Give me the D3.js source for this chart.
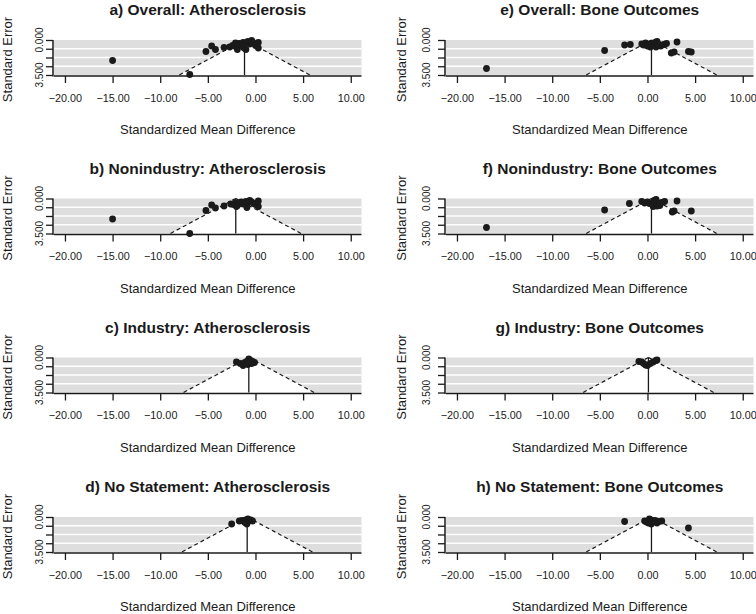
<!DOCTYPE html>
<html><head><meta charset="utf-8">
<script src="https://cdn.jsdelivr.net/npm/d3@7"></script>
<style>body{margin:0;background:#fff}svg{display:block}text{font-family:"Liberation Sans",Arial,Helvetica,sans-serif;fill:#1a1a1a}</style>
</head><body>
<script>
const titles = ["a) Overall: Atherosclerosis","b) Nonindustry: Atherosclerosis","c) Industry: Atherosclerosis","d) No Statement: Atherosclerosis",
                "e) Overall: Bone Outcomes","f) Nonindustry: Bone Outcomes","g) Industry: Bone Outcomes","h) No Statement: Bone Outcomes"];
const estimates = [-1.15, -2.07, -0.7, -0.87, 0.42, 0.42, 0.1, 0.42];
const xTicks = [-20, -15, -10, -5, 0, 5, 10];
const yTicks = [0, 0.875, 1.75, 2.625, 3.5];
const xLabel = "Standardized Mean Difference";
const yLabel = "Standard Error";

const aSMD = [-15.0,-6.9,-5.2,-4.6,-4.2,-3.3,-2.7,-2.4,-2.2,-2.0,-1.9,-1.7,-1.5,-1.3,-1.2,-1.0,-0.8,-0.6,-0.4,-0.2,0.0,0.3,0.3,-1.4,-2.1,-1.0];
const aSE  = [2.05,3.45,1.15,0.6,0.95,0.75,0.7,0.55,0.6,0.45,0.95,0.35,0.5,0.25,0.8,0.3,0.15,0.4,0.05,0.3,0.55,0.25,0.8,0.6,0.3,0.95];
const bSMD = [-15.0,-6.9,-5.2,-4.6,-4.2,-3.3,-2.6,-2.3,-2.1,-1.9,-1.7,-1.5,-1.3,-1.0,-0.8,-0.6,-0.4,-0.2,0.0,0.3,0.3,-2.0,-0.9];
const bSE  = [2.05,3.5,1.2,0.65,0.95,0.75,0.55,0.6,0.45,0.7,0.5,0.35,0.55,0.3,0.4,0.2,0.35,0.5,0.6,0.25,0.8,0.8,0.9];
const cSMD = [-2.0,-1.6,-1.3,-1.1,-0.9,-0.7,-0.5,-0.3,-0.1,-0.8,-0.4,-0.6];
const cSE  = [0.45,0.6,0.8,0.5,0.4,0.15,0.3,0.4,0.5,0.7,0.6,0.45];
const dSMD = [-2.5,-1.7,-1.4,-1.2,-1.0,-0.9,-0.7,-0.5,-0.3,-0.8,-1.1];
const dSE  = [0.7,0.4,0.35,0.45,0.3,0.7,0.4,0.3,0.4,0.2,0.55];
const eSMD = [-16.9,-4.5,-2.4,-1.8,-0.6,-0.4,-0.2,0.0,0.2,0.4,0.6,0.8,1.0,1.2,1.4,1.7,2.0,0.9,0.3,3.1,2.5,2.8,4.3,4.6,1.1];
const eSE  = [2.85,1.05,0.5,0.45,0.4,0.5,0.3,0.6,0.45,0.35,0.55,0.25,0.15,0.5,0.6,0.45,0.35,0.7,0.7,0.2,1.3,1.2,1.15,1.2,0.4];
const fSMD = [-16.9,-4.5,-1.9,-0.6,-0.3,0.0,0.2,0.5,0.7,0.9,1.1,1.3,1.5,1.8,1.0,0.6,3.1,2.6,2.8,4.6];
const fSE  = [2.9,1.15,0.5,0.3,0.45,0.35,0.5,0.6,0.2,0.1,0.55,0.7,0.4,0.3,0.75,0.8,0.25,1.35,1.25,1.25];
const gSMD = [-0.9,-0.6,-0.4,-0.2,0.0,0.3,0.6,0.9,1.0];
const gSE  = [0.4,0.45,0.6,0.75,0.8,0.6,0.45,0.3,0.25];
const hSMD = [-2.4,-0.3,-0.1,0.1,0.3,0.4,0.6,0.8,1.0,1.2,1.5,4.3,0.2];
const hSE  = [0.45,0.4,0.5,0.6,0.3,0.7,0.45,0.35,0.6,0.45,0.4,1.1,0.2];

const panelSMD = [aSMD,bSMD,cSMD,dSMD,eSMD,fSMD,gSMD,hSMD];
const panelSE  = [aSE,bSE,cSE,dSE,eSE,fSE,gSE,hSE];

const W = 756, H = 614;
const svg = d3.select("body").append("svg").attr("width", W).attr("height", H);
const rowTop = [40, 198.5, 357.5, 517];
const plotH = 35;
const colLeft = [54, 446], plotW = 307.5;
const yTickLabX = [39, 426], yTitleX = [12, 406];
const xDomain = [-21.15, 11.13];
const crit = 1.96;

titles.forEach((t, i) => {
  const col = i < 4 ? 0 : 1, row = i % 4;
  const top = rowTop[row], left = colLeft[col];
  const x = d3.scaleLinear().domain(xDomain).range([left, left + plotW]);
  const y = d3.scaleLinear().domain([0, 3.5]).range([top, top + plotH]);
  const g = svg.append("g");
  const est = estimates[i];
  // background
  g.append("rect").attr("x", left).attr("y", top).attr("width", plotW).attr("height", plotH).attr("fill", "#dedede");
  g.selectAll(".grid").data(yTicks.slice(1, -1)).enter().append("line")
    .attr("x1", left).attr("x2", left + plotW).attr("y1", d => y(d)).attr("y2", d => y(d))
    .attr("stroke", "#fff").attr("stroke-width", 1.5);
  // funnel
  const tri = [[est, 0], [est - crit * 3.5, 3.5], [est + crit * 3.5, 3.5]];
  g.append("path").attr("d", d3.line().x(d => x(d[0])).y(d => y(d[1]))(tri) + "Z").attr("fill", "#fff");
  g.append("line").attr("x1", x(est)).attr("x2", x(est)).attr("y1", y(0)).attr("y2", y(3.5))
    .attr("stroke", "#1a1a1a").attr("stroke-width", 1.3);
  [[tri[0], tri[1]], [tri[0], tri[2]]].forEach(s => {
    g.append("line").attr("x1", x(s[0][0])).attr("y1", y(s[0][1])).attr("x2", x(s[1][0])).attr("y2", y(s[1][1]))
      .attr("stroke", "#1a1a1a").attr("stroke-width", 1.2).attr("stroke-dasharray", "4,3");
  });
  // points
  const smd = panelSMD[i], se = panelSE[i];
  g.selectAll(".pt").data(smd.map((v, k) => [v, se[k]])).enter().append("circle")
    .attr("cx", d => x(d[0])).attr("cy", d => y(d[1])).attr("r", 3.4).attr("fill", "#1a1a1a");
  // x axis
  const xa = g.append("g").attr("transform", `translate(0,${top + plotH + 1})`)
    .call(d3.axisBottom(x).tickValues(xTicks).tickSize(7).tickPadding(11).tickFormat(d3.format(".2f")));
  xa.select(".domain").remove();
  g.append("line").attr("x1", left).attr("x2", left + plotW).attr("y1", top + plotH + 1).attr("y2", top + plotH + 1)
    .attr("stroke", "#1a1a1a").attr("stroke-width", 1.5);
  xa.selectAll(".tick line").attr("stroke", "#1a1a1a").attr("stroke-width", 1.3);
  xa.selectAll(".tick text").attr("font-size", 10.8).attr("fill", "#1a1a1a");
  // y axis
  const ya = g.append("g").attr("transform", `translate(${left - 1},0)`)
    .call(d3.axisLeft(y).tickValues(yTicks).tickSize(7).tickFormat(() => ""));
  ya.select(".domain").remove();
  g.append("line").attr("x1", left - 1).attr("x2", left - 1).attr("y1", top).attr("y2", top + plotH + 1.5)
    .attr("stroke", "#1a1a1a").attr("stroke-width", 1.5);
  ya.selectAll(".tick line").attr("stroke", "#1a1a1a").attr("stroke-width", 1.3);
  [yTicks[0], yTicks[yTicks.length - 1]].forEach(v => {
    g.append("text").attr("transform", `translate(${yTickLabX[col]},${y(v)}) rotate(-90)`)
      .attr("text-anchor", "middle").attr("dy", "0.35em").attr("font-size", 10).text(d3.format(".3f")(v));
  });
  // titles
  g.append("text").attr("x", left + plotW / 2).attr("y", top - 25).attr("text-anchor", "middle")
    .attr("font-size", 15.5).attr("font-weight", "bold").text(t);
  g.append("text").attr("x", left + plotW / 2).attr("y", top + 94).attr("text-anchor", "middle")
    .attr("font-size", 13).text(xLabel);
  g.append("text").attr("transform", `translate(${yTitleX[col]},${top + plotH / 2 + 2}) rotate(-90)`)
    .attr("text-anchor", "middle").attr("font-size", 13).text(yLabel);
});
</script>
</body></html>
